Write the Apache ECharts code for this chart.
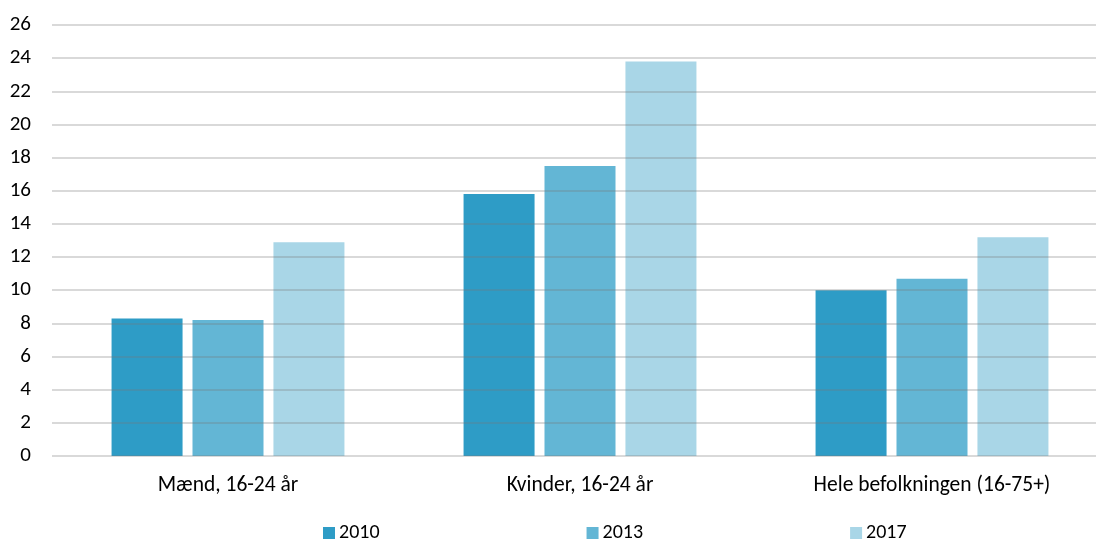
<!DOCTYPE html>
<html>
<head>
<meta charset="utf-8">
<script src="https://cdn.jsdelivr.net/npm/echarts@6/dist/echarts.min.js"></script>
<style>html,body{margin:0;padding:0;background:#fff;overflow:hidden;width:1096px;height:540px}#c{width:1108px;height:540px}</style>
</head>
<body>
<div id="c"></div>
<script>
const categories = ['Mænd, 16-24 år', 'Kvinder, 16-24 år', 'Hele befolkningen (16-75+)'];
const seriesNames = ['2010', '2013', '2017'];
const values2010 = [8.3, 15.8, 10.0];
const values2013 = [8.2, 17.5, 10.7];
const values2017 = [12.9, 23.8, 13.2];
const colors = ['#2E9CC6', '#63B6D5', '#A9D6E7'];

const chart = echarts.init(document.getElementById('c'));
const font = 'Carlito, Lato, sans-serif';
const data = [values2010, values2013, values2017];
chart.setOption({
  animation: false,
  textStyle: { fontFamily: font },
  grid: { left: 52, right: 0, top: 25, bottom: 84, containLabel: false },
  legend: {
    data: seriesNames,
    left: 323, top: 523, padding: 0,
    itemWidth: 12, itemHeight: 12, itemGap: 207,
    icon: 'rect',
    textStyle: { fontSize: 20, color: '#000', fontFamily: font, padding: [0, 0, 0, -1] }
  },
  xAxis: {
    type: 'category', data: categories,
    axisLine: { show: false }, axisTick: { show: false },
    axisLabel: { fontSize: 21.5, color: '#000', margin: 19, fontFamily: font }
  },
  yAxis: {
    type: 'value', min: 0, max: 26, interval: 2, z: 5,
    axisLine: { show: false }, axisTick: { show: false },
    axisLabel: { fontSize: 21, color: '#000', margin: 21, fontFamily: font },
    splitLine: { lineStyle: { color: 'rgba(120,120,120,0.28)', width: 2 } }
  },
  series: seriesNames.map((n, i) => ({
    name: n, type: 'bar', data: data[i],
    barWidth: 71, barGap: '14%',
    itemStyle: { color: colors[i] }
  }))
});
</script>
</body>
</html>
